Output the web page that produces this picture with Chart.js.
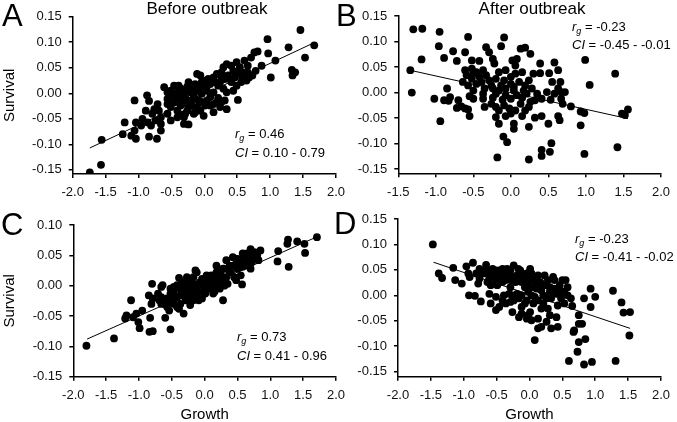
<!DOCTYPE html>
<html>
<head>
<meta charset="utf-8">
<script src="https://cdn.jsdelivr.net/npm/chart.js@4"></script>
<style>
  body { margin: 0; background: #fff; }
  #wrap { position: relative; width: 677px; height: 422px; overflow: hidden;
          font-family: "Liberation Sans", Arial, sans-serif; color: #000; }
  canvas { position: absolute; }
  .t { position: absolute; white-space: nowrap; }
  .head { font-size: 17px; line-height: 20px; width: 200px; text-align: center; }
  .lab { font-size: 31px; line-height: 31px; }
  .ann { font-size: 13px; line-height: 16px; }
  .ann sub { font-size: 9px; line-height: 0; vertical-align: -3px; font-style: italic; }
</style>
</head>
<body>
<div id="wrap">
  <canvas id="cA" width="352" height="200" style="left:0;top:0"></canvas>
  <canvas id="cB" width="347" height="200" style="left:330px;top:0"></canvas>
  <canvas id="cC" width="352" height="222" style="left:0;top:200px"></canvas>
  <canvas id="cD" width="347" height="222" style="left:330px;top:200px"></canvas>

  <div class="t head" style="left:107px;top:-1px">Before outbreak</div>
  <div class="t head" style="left:432px;top:-1px">After outbreak</div>

  <div class="t lab" style="left:2px;top:0">A</div>
  <div class="t lab" style="left:336px;top:0">B</div>
  <div class="t lab" style="left:1px;top:209px">C</div>
  <div class="t lab" style="left:334px;top:208px">D</div>

  <div class="t ann" style="left:235px;top:126px"><i>r</i><sub>g</sub> = 0.46</div>
  <div class="t ann" style="left:235px;top:145px"><i>CI</i> = 0.10 - 0.79</div>
  <div class="t ann" style="left:572px;top:19px"><i>r</i><sub>g</sub> = -0.23</div>
  <div class="t ann" style="left:572px;top:37px"><i>CI</i> = -0.45 - -0.01</div>
  <div class="t ann" style="left:237px;top:329px"><i>r</i><sub>g</sub> = 0.73</div>
  <div class="t ann" style="left:237px;top:348px"><i>CI</i> = 0.41 - 0.96</div>
  <div class="t ann" style="left:575px;top:231px"><i>r</i><sub>g</sub> = -0.23</div>
  <div class="t ann" style="left:575px;top:249px"><i>CI</i> = -0.41 - -0.02</div>
</div>

<script>
const FONT = '"Liberation Sans", Arial, sans-serif';

// tick labels
const growthTicksA = [-2.0, -1.5, -1.0, -0.5, 0.0, 0.5, 1.0, 1.5, 2.0];
const growthTicksB = [-1.5, -1.0, -0.5, 0.0, 0.5, 1.0, 1.5, 2.0];
const survivalTicks = [-0.15, -0.10, -0.05, 0.00, 0.05, 0.10, 0.15];
const survivalTicksC = [-0.15, -0.10, -0.05, 0.00, 0.05, 0.10];

// A: before outbreak (top)
const growthA = [1.46, 0.96, 1.67, 1.28, 1.53, 1.08, 0.76, 0.81, 0.97, 1.33, 1.38, 1.34, 1.01, 0.49, 0.71, 0.34,
  0.87, 0.78, 0.73, 0.58, 0.64, 0.49, -0.11, -0.06, 0.19, 0.26, 0.39, 0.01, -0.24, 0.09, 0.21, 0.29, -0.36, -0.61,
  -0.41, -0.31, -0.21, -0.11, -0.04, 0.04, 0.14, 0.34, 0.44, 0.51, -0.87, -1.06, -0.84, -0.56, -0.46, -0.31, -0.21,
  -0.09, 0.01, 0.14, 0.24, 0.34, -0.51, -0.41, -0.36, -0.26, -0.16, 0.14, -0.06, -0.69, -0.66, -0.79, -0.94, -0.86,
  -0.81, -0.96, -1.04, -1.21, -1.06, -1.11, -1.04, -1.24, -0.84, -0.72, -0.66, -0.51, -0.41, -0.31, -0.24, -1.56,
  -1.57, -1.74, -0.51, -0.44, -0.29, -0.16, 0.09, 0.21, 0.31, -0.01, -0.26, 0.54, 0.44, 0.66, 0.61, -0.14, -0.56,
  -0.24, -0.39, -0.31, -0.66,
  -0.51, -0.46, -0.39, -0.34, -0.29, -0.19, -0.14, -0.06, -0.04, 0.06, 0.14, 0.16, 0.24, 0.31, 0.36, 0.41, 0.46,
  0.51, 0.58, 0.66, 0.68, 0.56, 0.26, 0.29, 0.41, -0.39, -0.34, -0.24, -0.19, -0.11, -0.04, 0.04, 0.09, 0.19, 0.26,
  -0.56, -0.14, -0.29, -0.01, -0.71, -0.76, -0.89, -0.74, -0.56];
const survivalA = [0.124, 0.106, 0.094, 0.090, 0.070, 0.064, 0.080, 0.082, 0.078, 0.046, 0.041, 0.035, 0.031, 0.061,
  0.070, 0.057, 0.054, 0.044, 0.035, 0.041, 0.025, 0.015, 0.038, 0.035, 0.038, 0.031, 0.028, 0.025, 0.022, 0.018,
  0.015, 0.009, 0.009, 0.012, 0.002, -0.001, 0.002, 0.005, -0.001, 0.005, 0.002, 0.002, 0.005, -0.013, -0.004,
  -0.014, -0.015, -0.011, -0.018, -0.014, -0.021, -0.014, -0.024, -0.021, -0.027, -0.031, -0.027, -0.034, -0.024,
  -0.034, -0.040, -0.037, -0.034, -0.034, -0.047, -0.040, -0.050, -0.057, -0.063, -0.063, -0.057, -0.057, -0.073,
  -0.083, -0.089, -0.080, -0.085, -0.089, -0.073, -0.053, -0.047, -0.060, -0.061, -0.091, -0.140, -0.155, -0.005,
  -0.009, -0.009, -0.005, -0.007, -0.009, -0.014, 0.015, 0.013, 0.051, 0.044, 0.054, 0.064, -0.011, 0.002, -0.027,
  -0.040, -0.047, -0.060,
  0.005, 0.015, 0.015, 0.002, 0.005, 0.009, 0.018, 0.012, 0.022, 0.028, 0.031, 0.022, 0.022, 0.028, 0.035, 0.022,
  0.031, 0.038, 0.031, 0.041, 0.031, 0.022, 0.041, 0.051, 0.054, -0.011, -0.021, -0.014, -0.024, -0.027, -0.017,
  -0.014, -0.024, -0.017, -0.017, -0.021, -0.037, -0.040, -0.044, -0.021, -0.031, -0.034, -0.053, -0.040];
const fitGrowthA = [-1.74, 1.65];
const fitSurvivalA = [-0.107, 0.098];

// B: after outbreak (top)
const growthB = [-1.30, -1.18, -0.95, -0.57, -0.09, -0.96, -0.77, -0.61, -0.33, -0.29, -0.13, 0.13, 0.19, 0.26,
  -1.19, -0.89, -0.72, -0.52, -0.42, -0.24, -0.22, 0.02, 0.08, 0.06, 0.39, 0.58, 0.99, -1.34, -0.61, -0.52, -0.46,
  -0.37, -0.16, -0.07, 0.06, 0.15, 0.30, 0.39, 0.51, 0.63, 1.39, -0.64, -0.52, -0.39, -0.29, -0.20, -0.09, 0.00,
  0.11, 0.24, 0.55, 0.66, 1.05, -0.85, -0.50, -0.35, -0.24, -0.16, -0.07, 0.04, 0.17, 0.28, 0.63, 0.72, -1.32,
  -1.02, -0.89, -0.83, -0.70, -0.55, -0.37, -0.24, -0.11, 0.00, 0.15, 0.32, 0.41, 0.53, 0.67, 0.80, -0.72, -0.57,
  -0.35, -0.20, -0.02, 0.06, 0.24, 0.93, 0.98, 1.48, 1.52, 1.56, -0.55, -0.20, -0.07, 0.15, 0.32, 0.41, 0.63,
  -0.94, -0.16, 0.04, 0.50, 0.65, 0.93, 0.04, 0.24, -0.10, -0.05, 0.54, 0.41, 0.52, 0.41, 0.98, 1.42, -0.18, 0.24,
  -0.81, -0.66, -0.61,
  -0.59, -0.50, -0.42, -0.57, -0.46, -0.33, -0.26, -0.20, -0.13, -0.07, 0.00, 0.04, 0.08, 0.13, 0.19, 0.21, 0.26,
  0.35, 0.48, 0.58, 0.67, 0.69, -0.26, -0.16, -0.09, 0.00, 0.19, -0.37, -0.50];
const survivalB = [0.124, 0.125, 0.119, 0.109, 0.108, 0.091, 0.081, 0.079, 0.089, 0.079, 0.091, 0.086, 0.088,
  0.076, 0.065, 0.068, 0.062, 0.063, 0.062, 0.066, 0.057, 0.063, 0.066, 0.053, 0.057, 0.059, 0.064, 0.044, 0.044,
  0.047, 0.040, 0.044, 0.040, 0.044, 0.037, 0.040, 0.037, 0.038, 0.038, 0.044, 0.037, 0.021, 0.027, 0.021, 0.024,
  0.027, 0.024, 0.017, 0.021, 0.024, 0.021, 0.021, 0.015, 0.008, 0.004, 0.008, 0.008, 0.004, 0.008, 0.004, 0.004,
  0.008, 0.008, 0.001, 0.000, -0.012, -0.015, -0.016, -0.015, -0.007, -0.012, -0.010, -0.014, -0.012, -0.010,
  -0.015, -0.012, -0.014, -0.012, -0.027, -0.030, -0.033, -0.028, -0.028, -0.031, -0.035, -0.028, -0.037, -0.040,
  -0.041, -0.044, -0.033, -0.046, -0.048, -0.046, -0.046, -0.049, -0.046, -0.046, -0.056, -0.061, -0.061, -0.061,
  -0.054, -0.064, -0.071, -0.067, -0.086, -0.097, -0.099, -0.112, -0.116, -0.124, -0.120, -0.107, -0.127, -0.131,
  -0.009, -0.027, -0.031,
  0.034, 0.037, 0.031, 0.014, 0.017, 0.034, 0.014, -0.002, 0.014, -0.005, 0.031, 0.011, -0.005, -0.022, 0.014,
  -0.002, -0.018, -0.002, 0.001, -0.002, 0.001, -0.022, -0.022, -0.035, -0.025, -0.041, -0.035, -0.002, -0.012];
const fitGrowthB = [-1.38, 1.56];
const fitSurvivalB = [0.045, -0.051];

// C: before outbreak (bottom)
const growthC = [1.71, 1.27, 1.41, 1.52, 1.26, 1.53, 1.12, 1.11, 1.28, 0.85, 0.70, 0.58, 0.72, 0.80, 0.43, 0.33,
  0.48, 0.62, 0.70, 0.18, 0.28, 0.40, 0.55, 0.57, -0.12, 0.03, 0.18, 0.28, -0.17, -0.39, -0.27, -0.07, 0.08, 0.18,
  0.30, -0.47, -0.37, -0.22, -0.12, -0.02, 0.15, -0.52, -0.42, -0.27, -0.17, -0.04, -0.52, -0.37, -0.22, -0.57,
  0.28, -0.32, -0.64, -0.66, -0.80, -0.85, -0.79, -0.69, -1.12, -0.81, -0.95, -1.04, -1.19, -1.21, -1.09, -1.01,
  -0.99, -0.83, -0.60, -0.84, -0.79, -0.52, -1.38, -1.80, -0.42, -0.29, -0.09, 0.01, 0.08, 0.23, 0.38, 0.50, 0.62,
  0.75, 0.13, -0.17, -0.47, -0.61, -0.32, -0.14, -0.66,
  -0.52, -0.47, -0.42, -0.37, -0.32, -0.29, -0.24, -0.22, -0.19, -0.14, -0.12, -0.09, -0.04, -0.02, 0.01, 0.05,
  0.08, 0.10, 0.13, 0.18, 0.20, 0.23, 0.25, 0.30, 0.33, 0.35, 0.38, 0.43, 0.45, 0.48, 0.50, 0.53, 0.58, 0.60, 0.65,
  0.67, 0.72, 0.77, 0.80, 0.82, 0.48, -0.57, -0.54, -0.47, -0.39, -0.66, -0.71, -0.27, -0.34];
const survivalC = [0.080, 0.076, 0.073, 0.069, 0.069, 0.054, 0.057, 0.040, 0.031, 0.058, 0.060, 0.053, 0.050,
  0.045, 0.047, 0.042, 0.036, 0.033, 0.028, 0.033, 0.028, 0.022, 0.017, 0.002, 0.022, 0.017, 0.014, 0.009, 0.014,
  0.013, 0.006, 0.006, 0.003, -0.002, 0.000, -0.002, -0.005, -0.008, -0.005, -0.010, -0.010, -0.013, -0.019,
  -0.021, -0.024, -0.021, -0.027, -0.030, -0.032, -0.035, -0.024, -0.046, 0.001, -0.002, 0.003, -0.016, -0.021,
  -0.024, -0.024, -0.030, -0.041, -0.046, -0.049, -0.054, -0.052, -0.060, -0.070, -0.053, -0.053, -0.076, -0.075,
  -0.072, -0.087, -0.099, -0.035, -0.011, 0.003, -0.002, 0.011, 0.022, 0.033, 0.044, 0.044, 0.055, -0.013, -0.016,
  -0.021, -0.030, 0.001, 0.025, -0.019,
  -0.005, -0.010, 0.001, -0.016, -0.008, -0.024, -0.002, -0.013, 0.006, -0.002, -0.013, -0.024, 0.011, 0.001,
  -0.013, 0.006, -0.005, 0.017, 0.003, 0.022, 0.006, -0.005, 0.017, 0.028, 0.014, 0.003, 0.022, 0.033, 0.014,
  0.044, 0.028, 0.039, 0.031, 0.047, 0.053, 0.042, 0.039, 0.055, 0.050, 0.042, 0.009, -0.021, -0.041, -0.030,
  -0.038, -0.030, -0.013, 0.014, 0.006];
const fitGrowthC = [-1.79, 1.70];
const fitSurvivalC = [-0.088, 0.080];

// D: after outbreak (bottom)
const growthD = [-1.47, -1.38, -1.33, -1.16, -1.13, -1.03, -0.96, -0.86, -0.91, -0.93, -0.92, -0.83, -0.78, -0.74,
  -0.71, -0.66, -0.66, -0.61, -0.59, -0.54, -0.51, -0.51, -0.46, -0.49, -0.41, -0.34, -0.36, -0.39, -0.29, -0.29,
  -0.19, -0.17, -0.21, -0.19, -0.16, -0.09, -0.07, -0.07, -0.04, 0.01, 0.03, 0.03, 0.01, 0.11, 0.13, 0.13, 0.08,
  0.23, 0.26, 0.26, 0.26, 0.33, 0.36, 0.43, 0.41, 0.43, 0.50, 0.48, 0.53, 0.58, 0.65, 0.68, 0.67, 0.75, 0.75, 0.80,
  0.83, 0.85, 0.75, 0.73, 0.60, 0.83, 0.95, 0.93, 0.93, 1.00, 1.27, 1.31, 1.40, 1.43, 1.53, 1.52, -0.81, -0.76,
  -0.61, -0.56, -0.46, -0.41, -0.31, -0.26, -0.12, -0.04, 0.08, 0.16, 0.18, 0.31, 0.38, 0.48, -0.16, -0.26, -0.41,
  -0.51, -0.64, -0.59, -0.02, 0.06, 0.18, 0.28, -0.12, 0.03, 0.13, 0.18, 0.31,
  -0.76, -0.69, -0.59, -0.51, -0.46, -0.41, -0.36, -0.29, -0.26, -0.24, -0.14, -0.12, -0.04, -0.02, 0.03, 0.06,
  0.11, 0.13, 0.18, 0.21, 0.28, 0.31, 0.33, 0.38, 0.41, 0.46, 0.53, 0.55, 0.58, 0.63, -0.31, -0.24, -0.36, -0.12,
  -0.04, 0.08, 0.21, -0.12, -0.02, -0.26];
const survivalD = [0.100, 0.043, 0.034, 0.054, 0.030, 0.023, 0.057, 0.064, 0.036, 0.043, 0.000, -0.001, 0.023,
  -0.012, 0.046, 0.060, 0.052, 0.003, -0.016, 0.039, 0.030, -0.029, -0.023, 0.020, 0.043, 0.052, 0.030, 0.000,
  0.016, -0.013, 0.039, 0.052, 0.026, 0.003, -0.043, 0.036, 0.016, -0.016, -0.046, 0.052, 0.030, 0.000, -0.033,
  0.013, -0.010, -0.065, -0.088, 0.039, 0.020, -0.006, -0.052, -0.065, 0.036, -0.062, -0.043, -0.020, 0.030, 0.007,
  -0.016, 0.016, -0.021, -0.069, -0.072, -0.056, -0.039, -0.056, -0.006, -0.086, -0.092, -0.111, -0.129, -0.136,
  -0.131, -0.023, 0.013, -0.003, 0.009, -0.129, -0.014, -0.034, -0.033, -0.079, 0.043, 0.033, 0.033, 0.052, 0.049,
  0.026, 0.039, 0.026, 0.026, 0.043, 0.033, 0.026, 0.010, 0.007, 0.013, -0.006, -0.006, 0.000, -0.010, -0.003,
  0.026, 0.020, 0.007, -0.016, -0.026, -0.026, -0.036, -0.049, -0.046, -0.062, -0.039,
  0.052, 0.043, 0.043, 0.049, 0.036, 0.052, 0.043, 0.049, 0.036, 0.059, 0.049, 0.036, 0.030, 0.020, 0.043, 0.016,
  0.026, 0.039, 0.023, 0.000, 0.030, 0.016, -0.006, 0.030, 0.003, 0.020, 0.007, 0.030, 0.000, -0.006, 0.003,
  -0.010, -0.016, 0.000, -0.010, -0.003, -0.016, -0.023, -0.039, -0.033];
const fitGrowthD = [-1.46, 1.53];
const fitSurvivalD = [0.065, -0.065];

function axis(min, max, ticks, size, digits, title) {
  return {
    type: 'linear',
    min, max,
    afterBuildTicks: s => { s.ticks = ticks.map(v => ({ value: v })); },
    afterFit: s => { if (s.isHorizontal()) s.height = size; else s.width = size; },
    border: { display: true, color: '#000', width: 1.5 },
    grid: { drawOnChartArea: false, drawTicks: true, tickLength: 4, color: '#000', lineWidth: 1.5 },
    ticks: { color: '#111', autoSkip: false, maxRotation: 0, padding: 7,
             font: { family: FONT, size: 13 }, callback: v => v.toFixed(digits) },
    title: title
      ? { display: true, text: title, color: '#000', font: { family: FONT, size: 15 }, padding: { top: 1, bottom: -2 } }
      : { display: false }
  };
}

function panel(id, gx, sy, fx, fy, o) {
  const pts = gx.map((x, i) => ({ x, y: sy[i] }));
  const fit = fx.map((x, i) => ({ x, y: fy[i] }));
  return new Chart(document.getElementById(id), {
    type: 'scatter',
    data: {
      datasets: [
        { data: pts, backgroundColor: '#000', borderWidth: 0, pointRadius: 3.9, order: 0 },
        { type: 'line', data: fit, borderColor: '#000', borderWidth: 1, pointRadius: 0, fill: false, order: 1 }
      ]
    },
    options: {
      responsive: false,
      animation: false,
      events: [],
      layout: { padding: o.pad },
      plugins: { legend: { display: false }, tooltip: { enabled: false } },
      scales: {
        x: axis(o.xmin, 2.0, o.xticks, o.xh, 1, o.xtitle),
        y: axis(o.ymin, o.ymax, o.yticks, o.yw, 2, o.ytitle)
      }
    }
  });
}

panel('cA', growthA, survivalA, fitGrowthA, fitSurvivalA, {
  pad: { left: 0, top: 16.7, right: 12, bottom: 0 }, xmin: -2.0, xticks: growthTicksA, xh: 26,
  ymin: -0.158, ymax: 0.15, yticks: survivalTicks, yw: 72.7, ytitle: 'Survival'
});
panel('cB', growthB, survivalB, fitGrowthB, fitSurvivalB, {
  pad: { left: 0, top: 16, right: 11, bottom: 0 }, xmin: -1.5, xticks: growthTicksB, xh: 26.7,
  ymin: -0.158, ymax: 0.15, yticks: survivalTicks, yw: 68.3
});
panel('cC', growthC, survivalC, fitGrowthC, fitSurvivalC, {
  pad: { left: 0, top: 25, right: 10, bottom: 0 }, xmin: -2.0, xticks: growthTicksA, xh: 45.3, xtitle: 'Growth',
  ymin: -0.15, ymax: 0.10, yticks: survivalTicksC, yw: 73.3, ytitle: 'Survival'
});
panel('cD', growthD, survivalD, fitGrowthD, fitSurvivalD, {
  pad: { left: 0, top: 19, right: 10.3, bottom: 0 }, xmin: -2.0, xticks: growthTicksA, xh: 45.3, xtitle: 'Growth',
  ymin: -0.16, ymax: 0.15, yticks: survivalTicks, yw: 68
});
</script>
</body>
</html>
